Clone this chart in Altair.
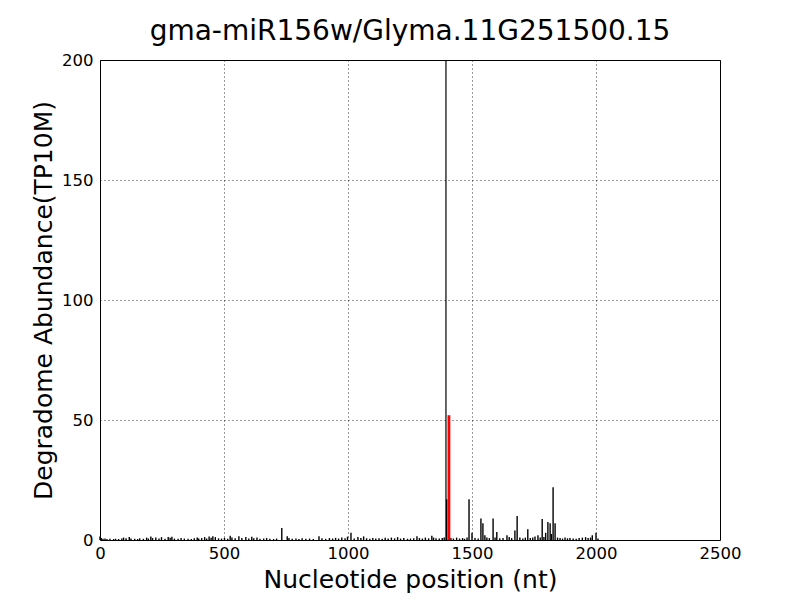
import altair as alt
import pandas as pd

# Degradome read abundances (TP10M) at nucleotide positions
positions = [0, 5, 12, 20, 28, 40, 55, 63, 75, 88, 95, 105, 118, 125, 140, 152, 160, 175, 188, 195,
             205, 212, 225, 238, 248, 262, 275, 283, 290, 300, 315, 327, 340, 355, 368, 380, 392, 398,
             410, 422, 430, 440, 448, 455, 465, 478, 490, 502, 515, 525, 532, 545, 560, 572, 588, 600,
             612, 620, 633, 645, 660, 672, 685, 700, 712, 733, 755, 762, 775, 790, 802, 815, 830, 845,
             860, 883, 895, 910, 925, 938, 950, 962, 975, 988, 998, 1012, 1025, 1040, 1052, 1063, 1075,
             1088, 1100, 1112, 1125, 1138, 1150, 1162, 1175, 1188, 1200, 1212, 1225, 1240, 1252, 1265,
             1278, 1288, 1300, 1312, 1325, 1338, 1345, 1355, 1368, 1380, 1388, 1398, 1415, 1425, 1438,
             1450, 1462, 1470, 1480, 1488, 1500, 1512, 1525, 1536, 1544, 1552, 1560, 1570, 1585, 1593,
             1600, 1612, 1625, 1641, 1650, 1660, 1673, 1682, 1693, 1705, 1715, 1725, 1735, 1745, 1754,
             1766, 1775, 1783, 1790, 1797, 1806, 1815, 1820, 1827, 1835, 1845, 1855, 1865, 1875, 1885,
             1895, 1908, 1920, 1932, 1945, 1958, 1968, 1978, 1985, 2000, 2008]
values = [1.5, 0.8, 0.5, 0.6, 0.4, 0.5, 0.4, 0.5, 0.4, 0.6, 1.0, 0.7, 1.2, 0.6, 0.5, 0.4, 0.7, 0.5, 1.0, 0.6,
          1.5, 0.8, 1.0, 0.6, 1.2, 0.5, 1.3, 0.9, 1.4, 0.6, 0.5, 0.8, 0.6, 0.5, 0.4, 0.7, 1.0, 0.6,
          0.8, 1.2, 0.6, 1.5, 0.9, 1.6, 1.2, 0.7, 0.6, 0.9, 0.5, 1.8, 1.0, 0.7, 1.6, 0.8, 1.2, 0.6,
          1.4, 0.7, 1.0, 0.5, 0.6, 0.8, 0.5, 0.4, 0.6, 5.0, 1.6, 0.8, 0.5, 0.6, 0.4, 0.7, 0.5, 0.6,
          0.4, 1.6, 0.7, 0.5, 0.8, 0.6, 0.9, 0.6, 1.0, 0.7, 1.4, 3.0, 0.6, 1.2, 0.8, 1.5, 0.7,
          0.5, 0.8, 0.6, 0.7, 0.5, 0.9, 0.6, 1.0, 0.7, 1.2, 0.6, 0.8, 0.5, 0.6, 0.7,
          1.6, 0.8, 0.6, 1.0, 0.7, 1.8, 1.0, 0.7, 0.6, 0.8, 1.0, 17.0, 0.8, 0.6, 1.0,
          0.6, 0.8, 0.5, 1.0, 17.0, 3.0, 0.8, 0.6, 9.0, 7.0, 2.0, 1.0, 0.8, 9.0, 1.0,
          3.3, 0.7, 0.8, 2.0, 1.2, 0.8, 4.0, 10.0, 1.0, 0.6, 1.0, 4.5, 0.8, 1.0, 1.5,
          2.0, 1.0, 8.7, 1.2, 3.0, 7.5, 7.0, 2.5, 22.0, 7.0, 1.0, 0.8, 0.6, 1.0, 0.7,
          0.8, 0.6, 0.5, 0.8, 1.0, 1.2, 0.8, 1.0, 2.0, 3.0, 0.6]

peak_position = [1407]
peak_value = [52]
cleavage_site = [1395]

x_ticks = [0, 500, 1000, 1500, 2000, 2500]
y_ticks = [0, 50, 100, 150, 200]

df = pd.DataFrame({"pos": positions, "val": values})
peak_df = pd.DataFrame({"pos": peak_position, "val": peak_value})
site_df = pd.DataFrame({"pos": cleavage_site})

xscale = alt.Scale(domain=[0, 2500], nice=False, zero=False)
yscale = alt.Scale(domain=[0, 200], nice=False)

x_axis = alt.Axis(values=x_ticks, title="Nucleotide position (nt)", format="d",
                  labelFontSize=16.5, titleFontSize=25, titleFontWeight="normal",
                  labelPadding=5, titlePadding=6, ticks=False, domain=False,
                  grid=True, gridColor="#000000", gridDash=[1, 3], gridWidth=0.8,
                  labelColor="#000000", titleColor="#000000", labelFlush=False)
y_axis = alt.Axis(values=y_ticks, title="Degradome Abundance(TP10M)", format="d",
                  labelFontSize=16.5, titleFontSize=25, titleFontWeight="normal",
                  labelPadding=7, titlePadding=5, ticks=False, domain=False,
                  grid=True, gridColor="#000000", gridDash=[1, 3], gridWidth=0.8,
                  labelColor="#000000", titleColor="#000000", labelFlush=False)

bars = alt.Chart(df).mark_rule(color="black", strokeWidth=1.4).encode(
    x=alt.X("pos:Q", scale=xscale, axis=x_axis),
    y=alt.Y("val:Q", scale=yscale, axis=y_axis),
    y2=alt.datum(0),
)

peak = alt.Chart(peak_df).mark_rule(color="#ff0000", strokeWidth=2.8).encode(
    x=alt.X("pos:Q", scale=xscale),
    y=alt.Y("val:Q", scale=yscale),
    y2=alt.datum(0),
)

site = alt.Chart(site_df).mark_rule(color="black", strokeWidth=1.2).encode(
    x=alt.X("pos:Q", scale=xscale),
)

chart = alt.layer(bars, peak, site).properties(
    width=620,
    height=480,
    title=alt.TitleParams("gma-miR156w/Glyma.11G251500.15", fontSize=28,
                          fontWeight="normal", color="#000000", offset=6),
    autosize=alt.AutoSizeParams(type="none"),
    padding={"left": 92, "top": 52, "right": 72, "bottom": 62},
).configure(
    font="DejaVu Sans",
).configure_view(
    stroke="#000000", strokeWidth=1,
)

chart.save("out.html", embed_options={"renderer": "svg", "actions": False})
